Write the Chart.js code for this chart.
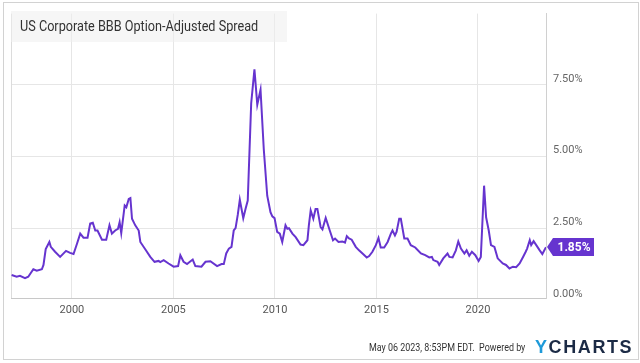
<!DOCTYPE html>
<html>
<head>
<meta charset="utf-8">
<script src="https://cdn.jsdelivr.net/npm/chart.js@4.4.0/dist/chart.umd.min.js"></script>
<style>
  body { margin: 0; background: #fff; font-family: Roboto, "Liberation Sans", sans-serif; }
  #wrap { position: relative; width: 640px; height: 363px; overflow: hidden; }
  #frame { position: absolute; left: 3px; top: 2px; width: 634px; height: 356px; border: 1px solid #d2d2d2; }
  #title { position: absolute; left: 11px; top: 11px; width: 267px; height: 31px; line-height: 31px;
           padding-left: 9px; background: rgba(238, 238, 238, 0.55); color: #333; font-size: 14px; }
  #title span, #footer span { display: inline-block; transform-origin: left center; }
  #title span { transform: scaleX(0.905); }
  #footer { position: absolute; left: 369px; top: 341px; font-size: 10.5px; color: #333; white-space: nowrap; }
  #footer span { transform: scaleX(0.85); }
  #logo { position: absolute; left: 535px; top: 337px; font-family: "Liberation Sans", Arial, sans-serif;
          font-weight: bold; font-size: 18px; letter-spacing: 1.6px; white-space: nowrap; }
  #logo .y { color: #1e9ad9; }
  #logo .c { color: #1b2a45; }
  canvas { position: absolute; left: 0; top: 0; }
</style>
</head>
<body>
<div id="wrap">
  <canvas id="spreadChart" width="640" height="363"></canvas>
  <div id="frame"></div>
  <div id="title"><span>US Corporate BBB Option-Adjusted Spread</span></div>
  <div id="footer"><span>May 06 2023, 8:53PM EDT.&nbsp; Powered by</span></div>
  <div id="logo"><span class="y">Y</span><span class="c">CHARTS</span></div>
</div>
<script>
// dates as decimal years, spread in percent
const dates = [
  1997.03, 1997.28, 1997.44, 1997.69, 1997.85, 1998.10, 1998.27, 1998.52, 1998.60, 1998.71,
  1998.89, 1998.96, 1999.17, 1999.42, 1999.71, 1999.91, 2000.08, 2000.25, 2000.41, 2000.57,
  2000.77, 2000.90, 2001.03, 2001.15, 2001.26, 2001.48, 2001.69, 2001.85, 2001.97, 2002.13,
  2002.27, 2002.35, 2002.43, 2002.60, 2002.68, 2002.80, 2002.88, 2002.96, 2003.12, 2003.29,
  2003.37, 2003.62, 2003.86, 2004.07, 2004.27, 2004.35, 2004.52, 2004.76, 2005.01, 2005.23,
  2005.34, 2005.50, 2005.67, 2005.95, 2006.08, 2006.38, 2006.58, 2006.82, 2007.15, 2007.37,
  2007.48, 2007.60, 2007.73, 2007.86, 2007.97, 2008.06, 2008.17, 2008.27, 2008.44, 2008.55,
  2008.66, 2008.83, 2008.99, 2009.13, 2009.29, 2009.45, 2009.62, 2009.78, 2009.87, 2009.98,
  2010.11, 2010.24, 2010.36, 2010.52, 2010.61, 2010.69, 2010.86, 2011.02, 2011.26, 2011.40,
  2011.60, 2011.67, 2011.76, 2011.89, 2012.00, 2012.09, 2012.25, 2012.34, 2012.50, 2012.70,
  2012.86, 2012.96, 2013.13, 2013.32, 2013.45, 2013.54, 2013.65, 2013.78, 2013.98, 2014.14,
  2014.34, 2014.52, 2014.64, 2014.80, 2014.97, 2015.10, 2015.21, 2015.38, 2015.55, 2015.71,
  2015.79, 2015.91, 2015.99, 2016.12, 2016.20, 2016.37, 2016.53, 2016.69, 2016.91, 2017.19,
  2017.40, 2017.60, 2017.73, 2017.80, 2018.01, 2018.09, 2018.29, 2018.50, 2018.59, 2018.75,
  2018.91, 2019.03, 2019.16, 2019.33, 2019.44, 2019.57, 2019.70, 2019.87, 2020.03, 2020.14,
  2020.30, 2020.40, 2020.53, 2020.64, 2020.81, 2020.97, 2021.22, 2021.38, 2021.55, 2021.72,
  2021.88, 2022.05, 2022.22, 2022.35, 2022.42, 2022.55, 2022.62, 2022.74, 2022.87, 2023.04,
  2023.17, 2023.35
];
const spread = [
  0.88, 0.82, 0.85, 0.77, 0.82, 1.08, 1.03, 1.08, 1.23, 1.78,
  2.03, 1.86, 1.69, 1.51, 1.72, 1.65, 1.61, 1.97, 2.32, 2.18,
  2.18, 2.67, 2.70, 2.43, 2.43, 2.11, 2.11, 2.61, 2.32, 2.43,
  2.49, 2.72, 2.34, 3.30, 3.24, 3.53, 3.56, 2.84, 2.61, 2.43,
  2.03, 1.77, 1.51, 1.34, 1.37, 1.33, 1.40, 1.28, 1.17, 1.19,
  1.57, 1.34, 1.26, 1.42, 1.19, 1.17, 1.34, 1.36, 1.19, 1.26,
  1.26, 1.63, 1.80, 1.86, 2.43, 2.51, 2.98, 3.50, 2.86, 3.18,
  3.47, 6.86, 8.04, 6.81, 7.33, 5.26, 3.64, 3.07, 2.92, 2.86,
  2.38, 2.32, 2.03, 2.61, 2.49, 2.51, 2.32, 2.20, 1.94, 1.92,
  2.09, 2.61, 3.13, 2.84, 3.18, 3.18, 2.55, 2.47, 2.87, 2.43,
  2.09, 2.15, 2.03, 2.05, 2.01, 2.23, 2.15, 2.11, 1.86, 1.74,
  1.61, 1.49, 1.54, 1.69, 1.92, 2.17, 1.84, 1.84, 2.03, 2.32,
  2.43, 2.26, 2.38, 2.84, 2.84, 2.15, 2.15, 1.92, 1.84, 1.63,
  1.57, 1.49, 1.51, 1.40, 1.34, 1.23, 1.46, 1.63, 1.51, 1.49,
  1.74, 2.05, 1.80, 1.63, 1.74, 1.55, 1.69, 1.57, 1.37, 1.51,
  3.99, 2.89, 2.43, 1.92, 1.86, 1.46, 1.28, 1.23, 1.11, 1.17,
  1.15, 1.28, 1.51, 1.69, 1.80, 2.09, 1.92, 2.06, 1.92, 1.74,
  1.61, 1.85
];
const yearTicks = [2000, 2005, 2010, 2015, 2020];
const pctTicks = [0, 2.5, 5, 7.5];

const lineColor = "#6634cf";

const frameLines = {
  id: "frameLines",
  beforeDatasetsDraw(chart) {
    const { ctx, chartArea } = chart;
    ctx.save();
    ctx.strokeStyle = "#dcdcdc";
    ctx.lineWidth = 1;
    ctx.beginPath();
    ctx.moveTo(chartArea.left + 0.5, chartArea.top);
    ctx.lineTo(chartArea.left + 0.5, chartArea.bottom);
    ctx.stroke();
    ctx.restore();
  }
};

const lastBadge = {
  id: "lastBadge",
  afterDatasetsDraw(chart) {
    const { ctx, chartArea, scales } = chart;
    const last = spread[spread.length - 1];
    const y = Math.round(scales.y.getPixelForValue(last));
    const x = chartArea.right + 1;
    ctx.save();
    ctx.fillStyle = lineColor;
    ctx.beginPath();
    ctx.moveTo(x, y);
    ctx.lineTo(x + 6, y - 9);
    ctx.lineTo(x + 47, y - 9);
    ctx.lineTo(x + 47, y + 9);
    ctx.lineTo(x + 6, y + 9);
    ctx.closePath();
    ctx.fill();
    ctx.fillStyle = "#fff";
    ctx.font = "bold 12px Roboto";
    ctx.textAlign = "center";
    ctx.textBaseline = "middle";
    ctx.fillText(last.toFixed(2) + "%", x + 27, y + 0.5);
    ctx.restore();
  }
};

const ctx = document.getElementById("spreadChart").getContext("2d");
const spreadChart = new Chart(ctx, {
  type: "line",
  data: {
    datasets: [{
      label: "US Corporate BBB Option-Adjusted Spread",
      data: dates.map((d, i) => ({ x: d, y: spread[i] })),
      borderColor: lineColor,
      borderWidth: 2,
      pointRadius: 0,
      tension: 0,
      fill: false
    }]
  },
  options: {
    responsive: false,
    animation: false,
    layout: { padding: { left: 11, top: 11, right: 34, bottom: 40 } },
    plugins: {
      legend: { display: false },
      tooltip: { enabled: false }
    },
    scales: {
      x: {
        type: "linear",
        min: 1997.0,
        max: 2023.35,
        afterBuildTicks: (scale) => { scale.ticks = yearTicks.map(v => ({ value: v })); },
        afterFit: (scale) => { scale.height = 25; },
        ticks: {
          callback: (v) => String(v),
          color: "#555",
          font: { family: "Roboto", size: 11 },
          padding: 6,
          maxRotation: 0
        },
        grid: { color: "#e6e6e6", drawTicks: false },
        border: { color: "#c8c8c8" }
      },
      y: {
        position: "right",
        min: 0.08,
        max: 9.98,
        afterBuildTicks: (scale) => { scale.ticks = pctTicks.map(v => ({ value: v })); },
        afterFit: (scale) => { scale.width = 60; },
        ticks: {
          callback: (v) => v.toFixed(2) + "%",
          color: "#666",
          font: { family: "Roboto", size: 11 },
          padding: 7,
          labelOffset: -6
        },
        grid: {
          color: (c) => (c.tick && c.tick.value === 0 ? "rgba(0,0,0,0)" : "#e6e6e6"),
          drawTicks: false
        },
        border: { color: "#d0d0d0" }
      }
    }
  },
  plugins: [frameLines, lastBadge]
});
</script>
</body>
</html>
